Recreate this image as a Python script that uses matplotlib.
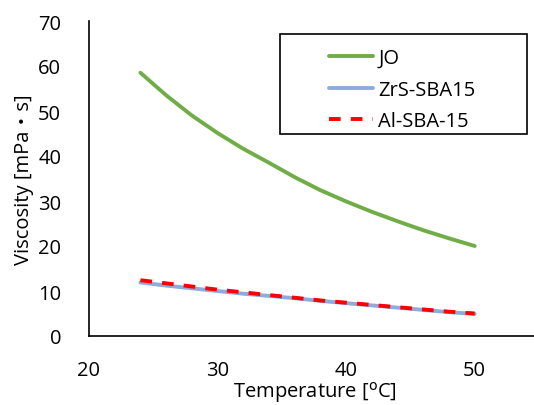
import matplotlib
matplotlib.use("Agg")
import matplotlib.pyplot as plt
from matplotlib.patches import Rectangle

temps = [24, 26, 28, 30, 32, 34, 36, 38, 40, 42, 44, 46, 48, 50]
jo = [58.5, 53.5, 49.0, 45.1, 41.6, 38.5, 35.3, 32.4, 29.9, 27.6, 25.5, 23.5, 21.7, 20.0]
zrs = [11.9, 11.2, 10.6, 10.0, 9.4, 8.9, 8.4, 7.8, 7.3, 6.8, 6.3, 5.8, 5.3, 4.9]
al = [12.4, 11.7, 11.0, 10.3, 9.7, 9.1, 8.5, 7.9, 7.4, 6.9, 6.4, 5.9, 5.4, 5.0]
labels = ["JO", "ZrS-SBA15", "Al-SBA-15"]

W, H = 534, 406
plt.rcParams['font.family'] = ['Open Sans', 'Noto Sans CJK JP', 'DejaVu Sans']
fig = plt.figure(figsize=(W / 100, H / 100), dpi=100)
ax = fig.add_axes([89 / W, (H - 337) / H, (539 - 89) / W, (337 - 22) / H])

ax.plot(temps, jo, color='#70AD47', lw=2.8, label=labels[0], solid_capstyle='round')
ax.plot(temps, zrs, color='#8FAADC', lw=2.8, label=labels[1], solid_capstyle='round')
ax.plot(temps, al, color='#FF0000', lw=2.8, ls=(0, (3, 2.6)), label=labels[2])

ax.set_xlim(20, 55)
ax.set_ylim(0, 70)
ax.set_xticks([20, 30, 40, 50])
ax.set_yticks(range(0, 71, 10))
ax.tick_params(axis='y', length=0, labelsize=14.5, pad=20)
ax.tick_params(axis='x', length=0, labelsize=14.5, pad=17)
for s in ['top', 'right']:
    ax.spines[s].set_visible(False)
for s in ['left', 'bottom']:
    ax.spines[s].set_color('black')
    ax.spines[s].set_linewidth(1.2)

ax.set_ylabel("Viscosity [mPa・s]", fontsize=14.5, labelpad=3)
fig.text(315 / W, 1 - 393 / H, "Temperature [$^{\\mathrm{o}}$C]", fontsize=14.5,
         ha='center', va='center')

leg = fig.legend(loc='upper left', bbox_to_anchor=(329 / W, (H - 49) / H),
                 frameon=False, fontsize=14.5, handlelength=2.2,
                 borderpad=0, labelspacing=0.58, handletextpad=0.25, borderaxespad=0)
fig.add_artist(Rectangle((280 / W, (H - 135) / H), 247 / W, 100 / H,
                         transform=fig.transFigure, fill=False,
                         edgecolor='black', linewidth=1.2))

fig.savefig("out.png", dpi=100)
